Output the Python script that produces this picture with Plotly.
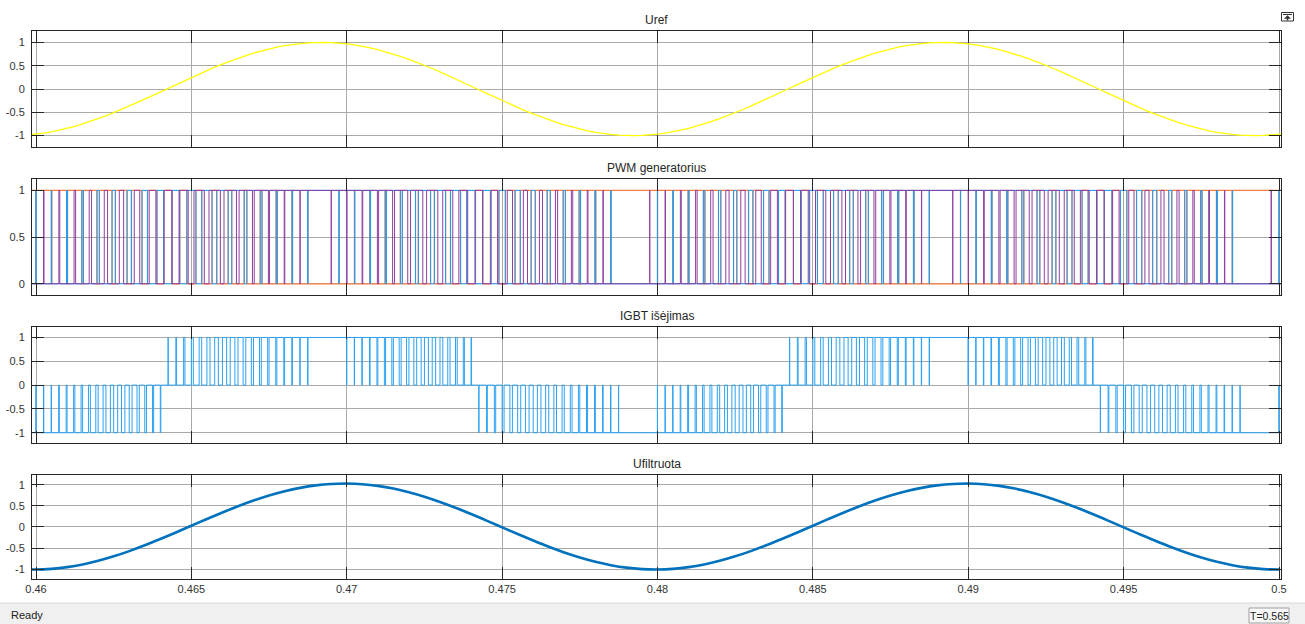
import plotly.graph_objects as go

W, H = 1305, 624

# ---------------- data ----------------
# Uref, sampled every 0.25 ms starting at 0.45975 s
uref_t0 = 0.45975
uref_dt = 0.00025
uref = [
    -0.985,
    -0.969, -0.946, -0.918, -0.884, -0.844, -0.800, -0.750, -0.696, -0.637, -0.575,
    -0.509, -0.440, -0.368, -0.294, -0.218, -0.141, -0.063, 0.016, 0.094, 0.172,
    0.249, 0.324, 0.397, 0.468, 0.536, 0.600, 0.661, 0.718, 0.771, 0.818,
    0.861, 0.898, 0.930, 0.956, 0.976, 0.990, 0.998, 1.000, 0.996, 0.985,
    0.969, 0.946, 0.918, 0.884, 0.844, 0.800, 0.750, 0.696, 0.637, 0.575,
    0.509, 0.440, 0.368, 0.294, 0.218, 0.141, 0.063, -0.016, -0.094, -0.172,
    -0.249, -0.324, -0.397, -0.468, -0.536, -0.600, -0.661, -0.718, -0.771, -0.818,
    -0.861, -0.898, -0.930, -0.956, -0.976, -0.990, -0.998, -1.000, -0.996, -0.985,
    -0.969, -0.946, -0.918, -0.884, -0.844, -0.800, -0.750, -0.696, -0.637, -0.575,
    -0.509, -0.440, -0.368, -0.294, -0.218, -0.141, -0.063, 0.016, 0.094, 0.172,
    0.249, 0.324, 0.397, 0.468, 0.536, 0.600, 0.661, 0.718, 0.771, 0.818,
    0.861, 0.898, 0.930, 0.956, 0.976, 0.990, 0.998, 1.000, 0.996, 0.985,
    0.969, 0.946, 0.918, 0.884, 0.844, 0.800, 0.750, 0.696, 0.637, 0.575,
    0.509, 0.440, 0.368, 0.294, 0.218, 0.141, 0.063, -0.016, -0.094, -0.172,
    -0.249, -0.324, -0.397, -0.468, -0.536, -0.600, -0.661, -0.718, -0.771, -0.818,
    -0.861, -0.898, -0.930, -0.956, -0.976, -0.990, -0.998, -1.000, -0.996, -0.985,
    -0.969, -0.946,
]

# Ufiltruota, sampled every 0.5 ms starting at 0.4595 s
ufilt_t0 = 0.4595
ufilt_dt = 0.0005
ufilt = [
    -1.000,
    -1.010, -0.994, -0.954, -0.890, -0.804, -0.698, -0.574, -0.436, -0.287, -0.131,
    0.029, 0.189, 0.343, 0.490, 0.625, 0.745, 0.846, 0.927, 0.986, 1.020,
    1.030, 1.014, 0.974, 0.910, 0.824, 0.718, 0.594, 0.456, 0.307, 0.151,
    -0.009, -0.169, -0.323, -0.470, -0.605, -0.725, -0.826, -0.907, -0.966, -1.000,
    -1.010, -0.994, -0.954, -0.890, -0.804, -0.698, -0.574, -0.436, -0.287, -0.131,
    0.029, 0.189, 0.343, 0.490, 0.625, 0.745, 0.846, 0.927, 0.986, 1.020,
    1.030, 1.014, 0.974, 0.910, 0.824, 0.718, 0.594, 0.456, 0.307, 0.151,
    -0.009, -0.169, -0.323, -0.470, -0.605, -0.725, -0.826, -0.907, -0.966, -1.000,
    -1.010,
]

# PWM settings
min_level = 0.005     # below this |m| no pulse is emitted
full_level = 0.987    # above this |m| the switch stays on
gate_every = 2        # gate carrier period = 2 Uref samples (0.5 ms)

x_ticks = [0.46, 0.465, 0.47, 0.475, 0.48, 0.485, 0.49, 0.495, 0.5]
x_tick_text = ["0.46", "0.465", "0.47", "0.475", "0.48", "0.485", "0.49", "0.495", "0.5"]
y_ticks_pm = [-1, -0.5, 0, 0.5, 1]
y_text_pm = ["-1", "-0.5", "0", "0.5", "1"]
y_ticks_01 = [0, 0.5, 1]
y_text_01 = ["0", "0.5", "1"]

titles = ["Uref", "PWM generatorius", "IGBT išėjimas", "Ufiltruota"]

# ---------------- build series ----------------
uref_t = [uref_t0 + k * uref_dt for k in range(len(uref))]
ufilt_t = [ufilt_t0 + j * ufilt_dt for j in range(len(ufilt))]

mod = []
for u in uref:
    if abs(u) < min_level:
        mod.append(0.0)
    elif u >= full_level:
        mod.append(1.0)
    elif u <= -full_level:
        mod.append(-1.0)
    else:
        mod.append(u)


def centered_train(centers, duties, P):
    xs, ys = [], []
    for c, d in zip(centers, duties):
        a = c - P / 2
        if d >= 1:
            xs.append(a); ys.append(1.0)
        elif d <= 0:
            xs.append(a); ys.append(0.0)
        else:
            w = d * P / 2
            xs += [a, c - w, c + w]
            ys += [0.0, 1.0, 0.0]
    xs.append(centers[-1] + P / 2)
    ys.append(ys[-1])
    return xs, ys


# gate signals (2 kHz carrier, two legs interleaved)
Pg = uref_dt * gate_every
gate_t = uref_t[::gate_every]
gate_m = mod[::gate_every]
gate_duty = [(1 + m) / 2 for m in gate_m]
blue_x, blue_y = centered_train([t + Pg / 2 for t in gate_t], gate_duty, Pg)
orange_y = [1.0 - v for v in blue_y]
purp_x, purp_y = centered_train(list(gate_t), gate_duty, Pg)

# inverter output (pulse at the start of each 0.25 ms slot)
igbt_x, igbt_y = [], []
for t, m in zip(uref_t, mod):
    lvl = 1.0 if m > 0 else -1.0
    if abs(m) >= 1:
        igbt_x.append(t); igbt_y.append(lvl)
    elif m == 0:
        igbt_x.append(t); igbt_y.append(0.0)
    else:
        igbt_x += [t, t + abs(m) * uref_dt]
        igbt_y += [lvl, 0.0]
igbt_x.append(uref_t[-1] + uref_dt)
igbt_y.append(igbt_y[-1])

# ---------------- figure ----------------
fig = go.Figure()

fig.add_trace(go.Scatter(x=uref_t, y=uref, mode="lines",
                         line=dict(color="#FFFF00", width=1.3),
                         xaxis="x", yaxis="y", hoverinfo="skip"))
fig.add_trace(go.Scatter(x=blue_x, y=orange_y, mode="lines", line_shape="hv",
                         line=dict(color="#FF7A3D", width=1.2),
                         xaxis="x2", yaxis="y2", hoverinfo="skip"))
fig.add_trace(go.Scatter(x=blue_x, y=blue_y, mode="lines", line_shape="hv",
                         line=dict(color="#1E9BF5", width=1),
                         xaxis="x2", yaxis="y2", hoverinfo="skip"))
fig.add_trace(go.Scatter(x=purp_x, y=purp_y, mode="lines", line_shape="hv",
                         line=dict(color="#8E3FA0", width=1),
                         xaxis="x2", yaxis="y2", hoverinfo="skip"))
fig.add_trace(go.Scatter(x=igbt_x, y=igbt_y, mode="lines", line_shape="hv",
                         line=dict(color="#2AA2F5", width=1),
                         xaxis="x3", yaxis="y3", hoverinfo="skip"))
fig.add_trace(go.Scatter(x=ufilt_t, y=ufilt, mode="lines", line_shape="spline",
                         line=dict(color="#0072BD", width=2.6, smoothing=1.0),
                         xaxis="x4", yaxis="y4", hoverinfo="skip"))


def py(px):
    return 1 - px / H


def pxx(px):
    return px / W


boxes = [(31, 147), (179, 295), (327, 443), (475, 579)]
yranges = [[-1.245, 1.245], [-0.12, 1.122], [-1.215, 1.22], [-1.235, 1.232]]
x_dom = [pxx(32), pxx(1281)]
x_rng = [0.459871, 0.500064]

grid_col = "#A9A9A9"
axis_font = dict(family="Liberation Sans, Arial, sans-serif", size=11, color="#333333")
layout = dict(
    width=W, height=H, autosize=False,
    margin=dict(l=0, r=0, t=0, b=0, autoexpand=False),
    paper_bgcolor="white", plot_bgcolor="white",
    showlegend=False,
    font=axis_font,
)

annotations = []
shapes = []
for i, (top, bot) in enumerate(boxes):
    n = "" if i == 0 else str(i + 1)
    last = i == 3
    layout["xaxis" + n] = dict(
        domain=x_dom, range=x_rng, anchor="y" + n, automargin=False,
        tickmode="array", tickvals=x_ticks, ticktext=x_tick_text,
        showticklabels=last, ticks="inside", ticklen=12, tickcolor="#262626", tickwidth=1,
        showgrid=True, gridcolor=grid_col, gridwidth=1,
        showline=True, linecolor="#262626", linewidth=1, mirror="ticks",
        zeroline=False, fixedrange=True, tickfont=axis_font,
    )
    pm = i != 1
    layout["yaxis" + n] = dict(
        domain=[py(bot), py(top)], range=yranges[i], anchor="x" + n, automargin=False,
        tickmode="array",
        tickvals=y_ticks_pm if pm else y_ticks_01,
        ticktext=y_text_pm if pm else y_text_01,
        ticks="inside", ticklen=12, tickcolor="#262626", tickwidth=1,
        showgrid=True, gridcolor=grid_col, gridwidth=1,
        showline=True, linecolor="#262626", linewidth=1, mirror="ticks",
        zeroline=False, fixedrange=True, tickfont=axis_font,
        ticklabelstandoff=4,
    )
    annotations.append(dict(
        text=titles[i], x=(x_dom[0] + x_dom[1]) / 2, y=py(top - 11),
        xref="paper", yref="paper", xanchor="center", yanchor="middle",
        showarrow=False, font=dict(family="Liberation Sans, Arial, sans-serif", size=12, color="#262626"),
    ))

# status bar
shapes.append(dict(type="rect", xref="paper", yref="paper", x0=0, x1=1, y0=0, y1=py(603),
                   fillcolor="#F0F0F0", line=dict(width=0), layer="below"))
shapes.append(dict(type="line", xref="paper", yref="paper", x0=0, x1=1, y0=py(603), y1=py(603),
                   line=dict(color="#D7D7D7", width=1)))
annotations.append(dict(text="Ready", x=pxx(9), y=py(615), xref="paper", yref="paper",
                        xanchor="left", yanchor="middle", showarrow=False,
                        font=dict(family="Liberation Sans, Arial, sans-serif", size=11, color="#222222")))
shapes.append(dict(type="rect", xref="paper", yref="paper", x0=pxx(1249), x1=pxx(1289),
                   y0=py(623), y1=py(608), fillcolor="#F7F7F7", line=dict(color="#A0A0A0", width=1)))
annotations.append(dict(text="T=0.565", x=pxx(1269), y=py(615.5), xref="paper", yref="paper",
                        xanchor="center", yanchor="middle", showarrow=False,
                        font=dict(family="Liberation Sans, Arial, sans-serif", size=10.5, color="#222222")))

# small undock icon top-right
shapes.append(dict(type="rect", xref="paper", yref="paper", x0=pxx(1281.5), x1=pxx(1293.5),
                   y0=py(21), y1=py(12.5), fillcolor="white", line=dict(color="#333333", width=1)))
shapes.append(dict(type="line", xref="paper", yref="paper", x0=pxx(1283), x1=pxx(1292),
                   y0=py(14.5), y1=py(14.5), line=dict(color="#333333", width=1)))
shapes.append(dict(type="path", xref="paper", yref="paper",
                   path="M {} {} L {} {} L {} {} Z".format(pxx(1284.5), py(18.5), pxx(1290.5), py(18.5),
                                                          pxx(1287.5), py(15.5)),
                   fillcolor="#333333", line=dict(color="#333333", width=0.5)))
shapes.append(dict(type="line", xref="paper", yref="paper", x0=pxx(1287.5), x1=pxx(1287.5),
                   y0=py(18.5), y1=py(20.5), line=dict(color="#333333", width=1.5)))

layout["annotations"] = annotations
layout["shapes"] = shapes
fig.update_layout(**layout)

fig.write_html("out.html", config={"displayModeBar": False, "staticPlot": True},
               post_script="document.body.style.margin='0';document.body.style.overflow='hidden';")
